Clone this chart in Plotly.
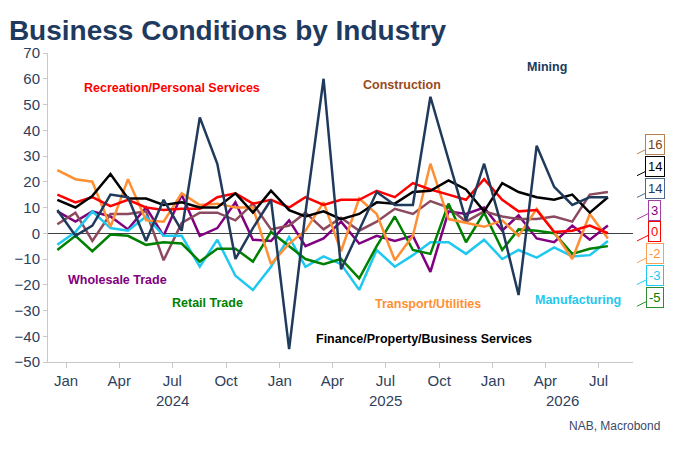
import pandas as pd
import plotly.graph_objects as go

# Monthly observations (month-end), Dec 2023 .. Jul 2026
dates = pd.date_range("2023-12-31", periods=32, freq="ME")

mining = [9, -1, 3, 15, 14, -3, 13, 1, 45, 27, -10, 2, 13, -45, 8, 60,
          -14, 1, 16, 11, 11, 53, 29, 5, 27, 2, -24, 34, 18, 11, 14, 14]
construction = [3.5, 8, -3, 7.5, 7.5, 8.5, -10.5, 4, 8, 8, 5, 11.5, 1.5, 3, 8, 1.5,
                6, 1, 4.5, 9.5, 7.5, 12.5, 10, 4.5, 8.5, 6.5, 5.5, 5.5, 6.5, 4.5, 15, 16]
recreation = [15, 12, 14, 10.5, 13, 10, 9, 9.5, 9.5, 14, 15.5, 11.5, 13, 10, 14, 11,
              13, 13, 16.5, 14, 19.5, 17, 15, 13, 21, 13, 8.5, 9, 0.5, 1, 3, 0]
wholesale = [8.5, 4.5, 8.5, 6.5, 1.5, 10, -1, 15, -1, 2, 12, -2.5, -3, 5, -5, -2,
             4.5, -4, -1, -3, -1, -15, 8.5, 7.5, 10, 1, 7, -2, -3.5, 3, -2.5, 3]
retail = [-6.5, -1, -7, -0.5, -1, -4.5, -3.5, -4, -11, -6, -6, -11, 0.5, -5, -10, -12,
          -10, -17.5, -5, 6.5, -6.5, -8, 11.5, -3.5, 8, -6.5, 1.5, 1, 0, -8, -6, -5]
transport = [24.5, 21, 20, 2.5, 21, 5, 4.5, 15.5, 11, 11.5, 10, 10, -12, -4, 1, 12,
             -7, 13.5, 7.5, -10.5, -1, 27, 5.5, 4, 2.5, 5, -1, 9.5, 0.5, -10, 7.5, -2]
manufacturing = [-4.5, 0.5, 8.5, 2, 1, 6.5, -1, -1, -13, -2.5, -16.5, -22, -13, -1.5, -13, -9,
                 -12, -22, -6.5, -13, -8.5, -3.5, -3.5, -8, -2.5, -10, -6.5, -9.5, -5.5, -9, -8.5, -3]
finance = [13, 10, 14.5, 23, 13.5, 13.5, 11, 12, 10, 10, 15.5, 8, 16.5, 9, 6.5, 8.5,
           5.5, 7.5, 12, 11.5, 16, 16.5, 20.5, 17, 8.5, 19.5, 16, 14, 13, 15, 8, 14]

tick_dates = ["2024-01-15", "2024-04-15", "2024-07-15", "2024-10-15",
              "2025-01-15", "2025-04-15", "2025-07-15", "2025-10-15",
              "2026-01-15", "2026-04-15", "2026-07-15"]
tick_text = ["Jan", "Apr", "Jul", "Oct", "Jan", "Apr", "Jul", "Oct", "Jan", "Apr", "Jul"]
year_labels = ["2024", "2025", "2026"]
year_pos = ["2024-07-15", "2025-07-15", "2026-05-15"]

NAVY = "#203A5C"
series = [
    # name, values, line colour, label colour, flag border, label pos (paper)
    ("Construction", construction, "#8C4A5E", "#9A4A1A", "#B9804F", (0.605, 0.896)),
    ("Finance/Property/Business Services", finance, "#000000", "#000000", "#000000", (0.643, 0.074)),
    ("Mining", mining, NAVY, NAVY, "#4A6890", (0.853, 0.955)),
    ("Wholesale Trade", wholesale, "#800080", "#800080", "#A040A0", (0.118, 0.265)),
    ("Recreation/Personal Services", recreation, "#FF0000", "#FF0000", "#FF0000", (0.212, 0.887)),
    ("Transport/Utilities", transport, "#FF8F33", "#FF8F33", "#FF9F55", (0.650, 0.188)),
    ("Manufacturing", manufacturing, "#1EC8EE", "#1EC8EE", "#1EC8EE", (0.906, 0.201)),
    ("Retail Trade", retail, "#008000", "#008000", "#2E8B2E", (0.272, 0.191)),
]

draw_order = ["Wholesale Trade", "Construction", "Manufacturing", "Retail Trade",
              "Transport/Utilities", "Recreation/Personal Services",
              "Finance/Property/Business Services", "Mining"]

fig = go.Figure()
lookup = {s[0]: s for s in series}
for name in draw_order:
    s = lookup[name]
    fig.add_trace(go.Scatter(x=dates, y=s[1], mode="lines", name=name,
                             line=dict(color=s[2], width=2.5), showlegend=False,
                             hoverinfo="skip"))

annotations = []
FONT = "Liberation Sans, Arial, sans-serif"
for s in series:
    annotations.append(dict(text="<b>%s</b>" % s[0], xref="paper", yref="paper",
                            x=s[5][0], y=s[5][1], showarrow=False,
                            font=dict(family=FONT, size=12.5, color=s[3]),
                            xanchor="center", yanchor="middle"))

# value flags at the right, stacked top to bottom
flag_top = 34.2
flag_step = 8.45
for k, s in enumerate(series):
    yc = flag_top - k * flag_step
    annotations.append(dict(text="%d" % int(round(s[1][-1])), xref="paper", yref="y",
                            x=1.0068, y=yc - 3.4, ax=18, ay=-9,
                            showarrow=True, arrowhead=0, arrowwidth=1,
                            arrowcolor=s[4], bordercolor=s[4], borderwidth=1,
                            borderpad=2, bgcolor="white",
                            font=dict(family=FONT, size=13,
                                      color=s[3] if s[0] != "Construction" else "#7A3E10"),
                            xanchor="center", yanchor="middle"))

for yl, yp in zip(year_labels, year_pos):
    annotations.append(dict(text=yl, xref="x", yref="paper", x=yp, y=-0.123,
                            showarrow=False, font=dict(family=FONT, size=15, color="#2E3F5C"),
                            xanchor="center", yanchor="middle"))

annotations.append(dict(text="NAB, Macrobond", xref="paper", yref="paper",
                        x=1.0496, y=-0.207, showarrow=False,
                        font=dict(family=FONT, size=12, color="#3B4A66"),
                        xanchor="right", yanchor="middle"))

fig.update_layout(
    width=684, height=454,
    margin=dict(l=48, r=51, t=53, b=92),
    paper_bgcolor="white", plot_bgcolor="white",
    title=dict(text="<b>Business Conditions by Industry</b>", xref="container", yref="container",
               x=0.013, y=1 - 30 / 454, xanchor="left", yanchor="middle",
               font=dict(family=FONT, size=28, color="#1F3A5F")),
    annotations=annotations,
    xaxis=dict(type="date", range=["2023-12-15", "2026-09-12"],
               tickvals=tick_dates, ticktext=tick_text,
               showgrid=False, showline=True, linecolor="#C8C8C8", linewidth=1,
               ticks="outside", ticklen=5, tickcolor="#C8C8C8",
               tickfont=dict(family=FONT, size=15, color="#2E3F5C")),
    yaxis=dict(range=[-50, 70], dtick=10, tick0=0,
               showgrid=False, showline=True, linecolor="#C8C8C8", linewidth=1,
               ticks="outside", ticklen=4, tickcolor="#C8C8C8",
               zeroline=True, zerolinecolor="#404040", zerolinewidth=1,
               tickfont=dict(family=FONT, size=15, color="#2E3F5C")),
)

fig.write_html("out.html", config={"displayModeBar": False},
               post_script="document.body.style.margin='0';document.body.style.overflow='hidden';")
